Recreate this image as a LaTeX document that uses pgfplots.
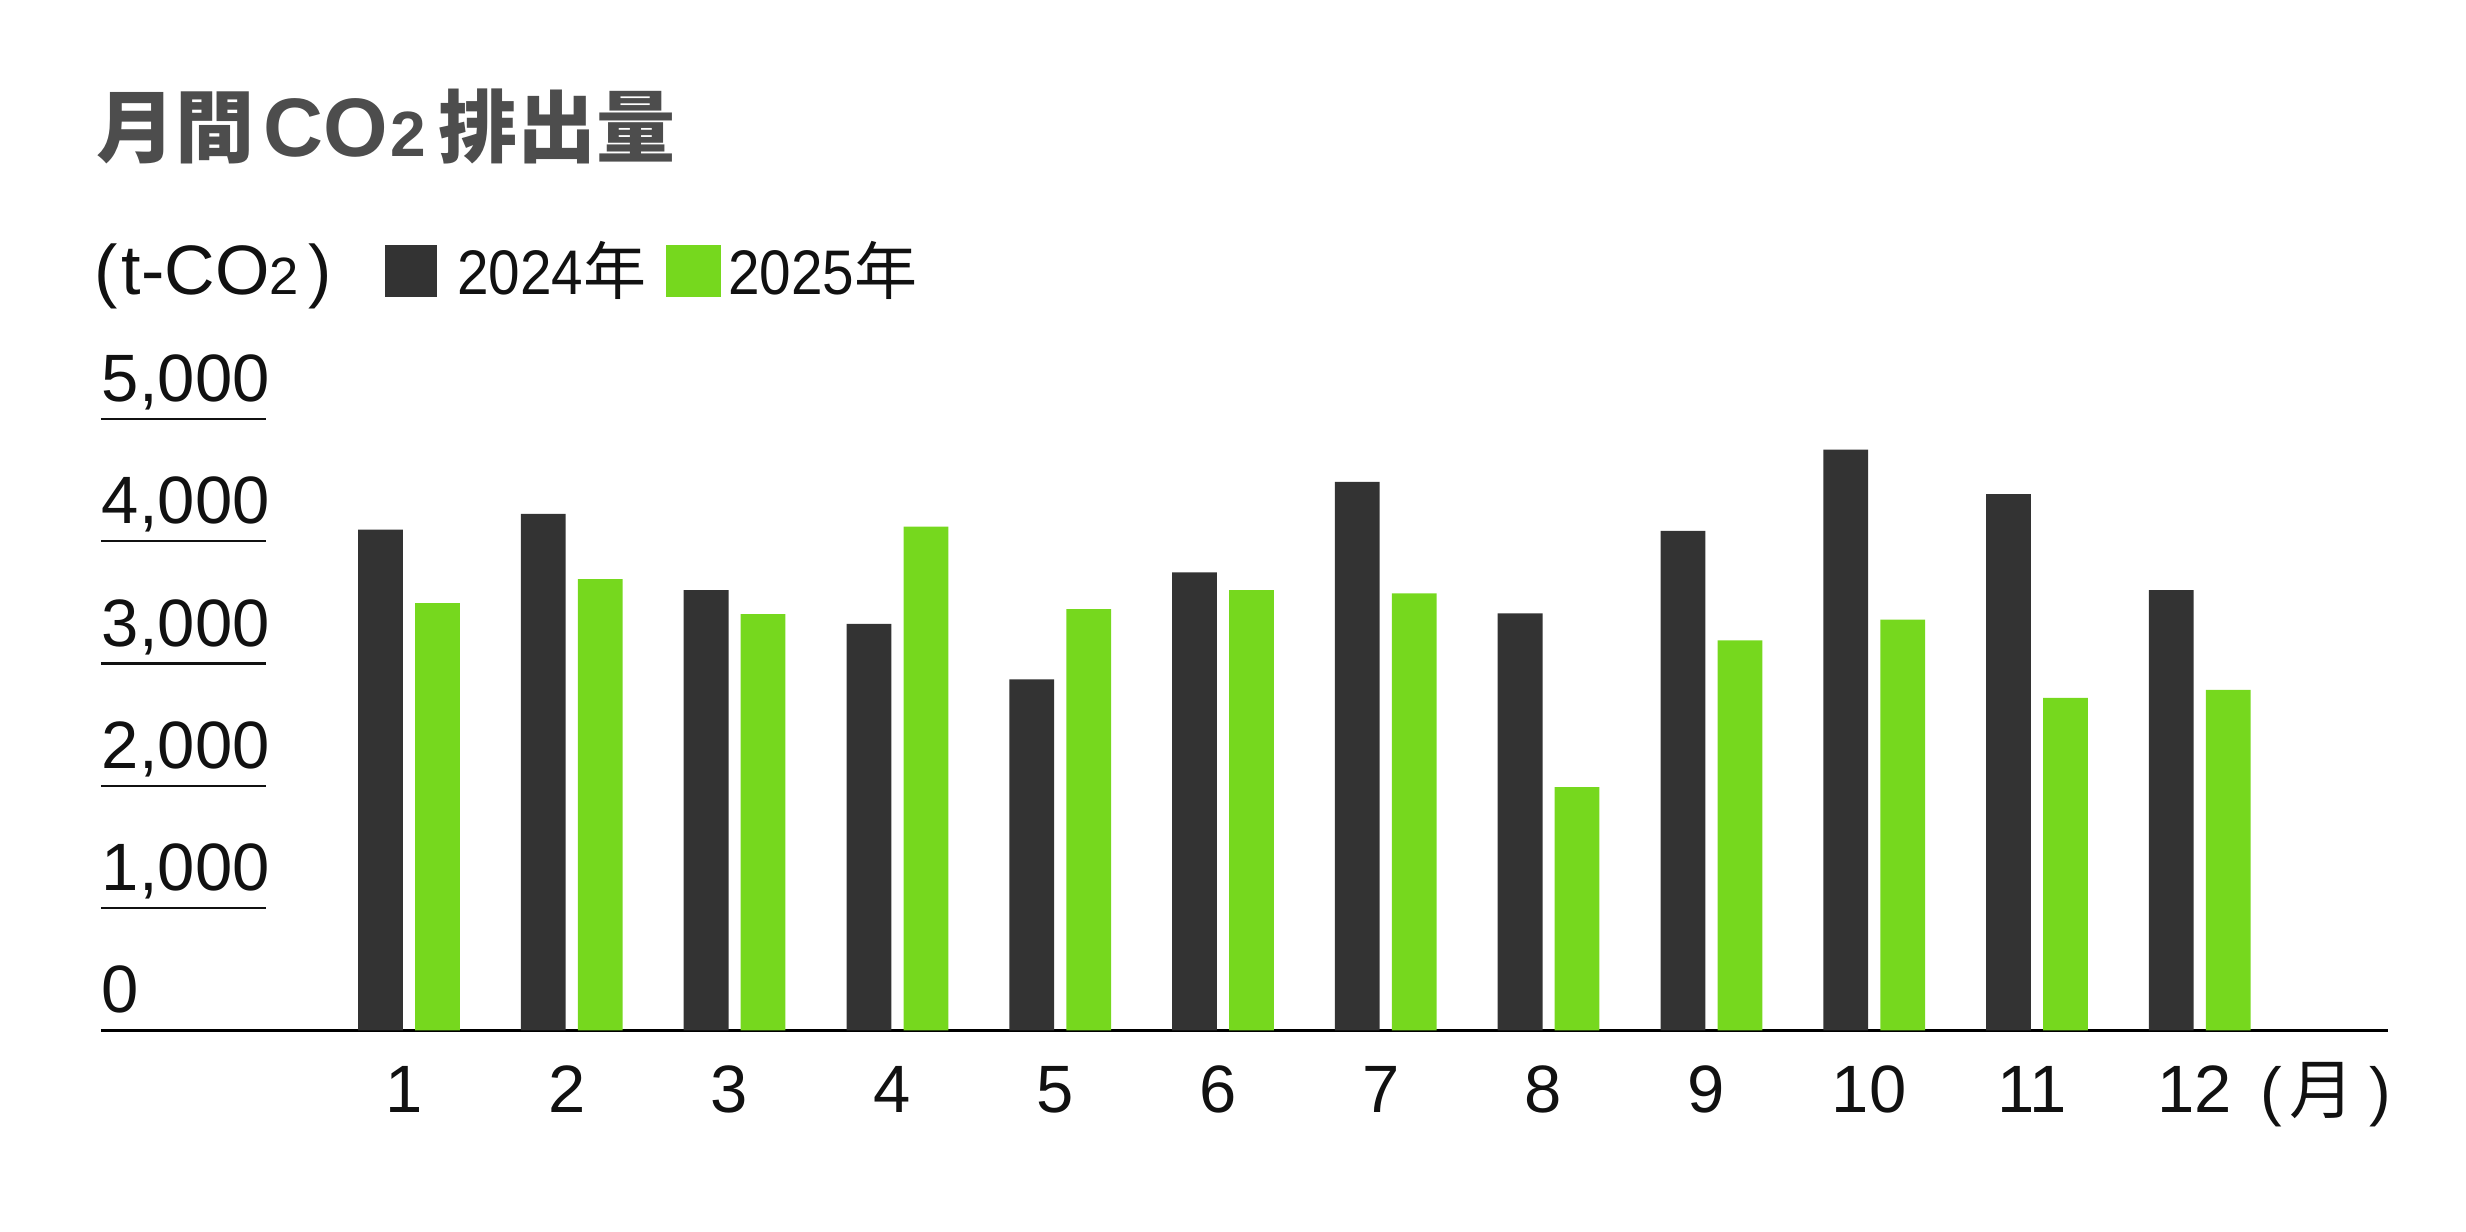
\documentclass[border=0pt]{standalone}
\usepackage{pgfplots}
\pgfplotsset{compat=1.18}
\usepackage{fontspec}
\setmainfont{Liberation Sans}
\newfontfamily\cjk{Noto Sans CJK JP}
\definecolor{bar24}{HTML}{333333}
\definecolor{bar25}{HTML}{76D81E}
\definecolor{titlegray}{HTML}{4D4D4D}
\definecolor{txt}{HTML}{111111}
\begin{document}
\begin{tikzpicture}
\path (-20.2pt,-40.3pt) rectangle (473pt,206.1pt);
\begin{axis}[
  at={(0,0)}, anchor=south west,
  scale only axis, width=457.4pt, height=122.3pt,
  xmin=-0.892, xmax=13.156, ymin=0, ymax=5000,
  axis x line=bottom, axis y line=left,
  axis line style={-},
  y axis line style={draw=none},
  x axis line style={line width=0.7pt, black},
  ytick={0,1000,2000,3000,4000,5000},
  yticklabels={0,{1,000},{2,000},{3,000},{4,000},{5,000}},
  xtick={1,2,3,4,5,6,7,8,9,10,11,12},
  xticklabels={1,2,3,4,5,6,7,8,9,10,11,12},
  tick align=inside,
  major tick length=33pt,
  ytick style={line width=0.45pt, color=txt},
  xtick style={draw=none},
  yticklabel style={anchor=base west, inner sep=0pt, yshift=3.5pt, text=txt,
    font=\fontsize{13.4}{13.4}\selectfont},
  xticklabel style={anchor=north, inner sep=0pt, yshift=26.1pt, xshift=-1pt, text=txt,
    font=\fontsize{13.4}{13.4}\selectfont},
  ybar, bar width=0.275,
  clip=false,
]
\addplot[fill=bar24, draw=none, bar shift=-0.175] coordinates {
(1,4095) (2,4225) (3,3600) (4,3325) (5,2870) (6,3745) (7,4485) (8,3410) (9,4085) (10,4750) (11,4385) (12,3600)};
\addplot[fill=bar25, draw=none, bar shift=0.175] coordinates {
(1,3495) (2,3690) (3,3405) (4,4120) (5,3445) (6,3600) (7,3575) (8,1990) (9,3190) (10,3360) (11,2720) (12,2785)};
\end{axis}
% title
\node[anchor=base west, inner sep=0pt, text=titlegray] at (-1.2pt,174.8pt)
  {\cjk\bfseries\fontsize{15.8}{15.8}\selectfont 月間\hspace{2pt}{\rmfamily\bfseries\fontsize{16.6}{16.6}\selectfont CO}\hspace{0.4pt}{\rmfamily\bfseries\fontsize{12.8}{12.8}\selectfont 2}\hspace{2.5pt}排出量};
% unit and legend
\node[anchor=base west, inner sep=0pt, text=txt] at (-1.5pt,147.1pt)
  {\fontsize{14}{14}\selectfont (\hspace{0.8pt}t-CO{\fontsize{10.5}{10.5}\selectfont 2}\hspace{2pt})};
\fill[bar24] (56.8pt,146.6pt) rectangle (67.2pt,157.1pt);
\node[anchor=base west, inner sep=0pt, text=txt] at (71pt,147.1pt)
  {\fontsize{12.6}{12.6}\selectfont\scalebox{0.9}[1]{2024}{\cjk 年}};
\fill[bar25] (113pt,146.6pt) rectangle (124pt,157.1pt);
\node[anchor=base west, inner sep=0pt, text=txt] at (125.2pt,147.1pt)
  {\fontsize{12.6}{12.6}\selectfont\scalebox{0.9}[1]{2025}{\cjk 年}};
% month unit
\node[anchor=base east, inner sep=0pt, text=txt] at (458.3pt,-16.5pt)
  {\fontsize{13}{13}\selectfont (\hspace{1.5pt}{\cjk 月}\hspace{3pt})};
\end{tikzpicture}
\end{document}
